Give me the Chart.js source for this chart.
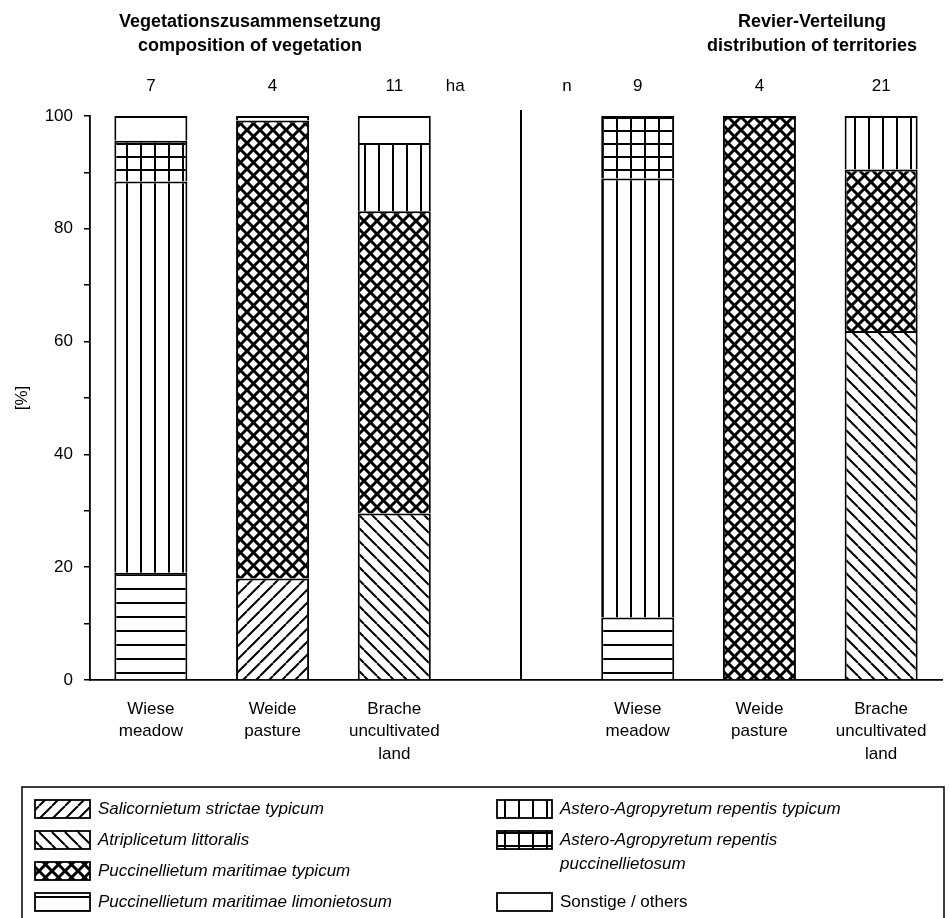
<!DOCTYPE html>
<html>
<head>
<meta charset="utf-8">
<script src="https://cdn.jsdelivr.net/npm/chart.js@4"></script>
<style>
  html, body { margin: 0; padding: 0; background: #fff; }
</style>
</head>
<body>
<canvas id="chart" width="950" height="918"></canvas>
<script>
// Kategorien (Slot 4 bleibt leer, dort steht die Trennlinie)
const categories = [['Wiese', 'meadow'], ['Weide', 'pasture'], ['Brache', 'uncultivated', 'land'], '',
                    ['Wiese', 'meadow'], ['Weide', 'pasture'], ['Brache', 'uncultivated', 'land']];
const panelTitles = [['Vegetationszusammensetzung', 'composition of vegetation'],
                     ['Revier-Verteilung', 'distribution of territories']];
const areaHa = [7, 4, 11];
const territoriesN = [9, 4, 21];

// Anteile in %
const salicornietum    = [null, 18,   null, null, null, null, null];
const atriplicetum     = [null, null, 29.5, null, null, null, 61.9];
const puccTypicum      = [null, 81.2, 53.6, null, null, 100,  28.6];
const puccLimonietosum = [19,   null, null, null, 11.1, null, null];
const asteroTypicum    = [69.4, null, 12.1, null, 77.8, null, 9.5];
const asteroPucc       = [7.2,  null, null, null, 11.1, null, null];
const others           = [4.4,  0.8,  4.8,  null, null, null, null];

const seriesNames = ['Salicornietum strictae typicum', 'Atriplicetum littoralis', 'Puccinellietum maritimae typicum',
                     'Puccinellietum maritimae limonietosum', 'Astero-Agropyretum repentis typicum',
                     ['Astero-Agropyretum repentis', 'puccinellietosum'], 'Sonstige / others'];
const seriesValues = [salicornietum, atriplicetum, puccTypicum, puccLimonietosum, asteroTypicum, asteroPucc, others];

const FONT = "'Liberation Sans', Arial, sans-serif";
const canvas = document.getElementById('chart');
const ctx = canvas.getContext('2d');

// Schraffuren als Muster
const makePattern = (w, h, draw) => {
    const tile = document.createElement('canvas');
    tile.width = w;
    tile.height = h;
    const g = tile.getContext('2d');
    g.fillStyle = '#fff';
    g.fillRect(0, 0, w, h);
    g.strokeStyle = '#000';
    g.fillStyle = '#000';
    draw(g, w, h);
    return ctx.createPattern(tile, 'repeat');
};
const diagonal = (g, s, up) => {
    g.beginPath();
    for (let k = -1; k <= 1; k++) {
        if (up) { g.moveTo(k * s, s); g.lineTo(k * s + s, 0); }
        else { g.moveTo(k * s, 0); g.lineTo(k * s + s, s); }
    }
    g.stroke();
};
const patterns = [
    makePattern(13, 13, (g, s) => { g.lineWidth = 2; diagonal(g, s, true); }),
    makePattern(13, 13, (g, s) => { g.lineWidth = 2; diagonal(g, s, false); }),
    makePattern(13, 13, (g, s) => { g.lineWidth = 3; diagonal(g, s, true); diagonal(g, s, false); }),
    makePattern(14, 14, (g, w) => { g.fillRect(0, 0, w, 2); }),
    makePattern(14, 14, (g, w, h) => { g.fillRect(0, 0, 2, h); }),
    makePattern(14, 13, (g, w, h) => { g.fillRect(0, 0, 2, h); g.fillRect(0, 0, w, 2); }),
    '#fff'
];

// Titel, Flächen/Anzahlen, Trennlinie und Legende
const decorations = {
    id: 'decorations',
    afterDraw(chart) {
        const { ctx, chartArea, scales: { x } } = chart;
        ctx.save();
        ctx.fillStyle = '#000';
        ctx.strokeStyle = '#000';
        ctx.textAlign = 'center';
        ctx.textBaseline = 'middle';

        ctx.font = `bold 18px ${FONT}`;
        [250, 812].forEach((cx, p) => {
            panelTitles[p].forEach((line, i) => ctx.fillText(line, cx, 22 + i * 24));
        });

        ctx.font = `17px ${FONT}`;
        areaHa.forEach((v, i) => ctx.fillText(String(v), x.getPixelForValue(i), 86));
        territoriesN.forEach((v, i) => ctx.fillText(String(v), x.getPixelForValue(i + 4), 86));
        ctx.fillText('ha', (x.getPixelForValue(2) + x.getPixelForValue(3)) / 2, 86);
        ctx.fillText('n', x.getPixelForValue(3) + 51, 86);

        const sepX = x.getPixelForValue(3) + 5;
        ctx.lineWidth = 2;
        ctx.beginPath();
        ctx.moveTo(sepX, chartArea.top - 6);
        ctx.lineTo(sepX, chartArea.bottom);
        ctx.stroke();

        // Legende
        ctx.lineWidth = 1.5;
        ctx.strokeRect(22, 787, 922, 140);
        const rows = [
            { x: 35, y: 809 }, { x: 35, y: 840 }, { x: 35, y: 871 }, { x: 35, y: 902 },
            { x: 497, y: 809 }, { x: 497, y: 840 }, { x: 497, y: 902 }
        ];
        ctx.textAlign = 'left';
        seriesNames.forEach((name, i) => {
            const r = rows[i];
            ctx.fillStyle = patterns[i];
            ctx.fillRect(r.x, r.y - 9, 55, 18);
            ctx.lineWidth = 1.8;
            ctx.strokeRect(r.x, r.y - 9, 55, 18);
            ctx.fillStyle = '#000';
            ctx.font = (i === 6 ? '' : 'italic ') + `17px ${FONT}`;
            const lines = Array.isArray(name) ? name : [name];
            lines.forEach((line, j) => ctx.fillText(line, r.x + 63, r.y + j * 24));
        });
        ctx.restore();
    }
};

new Chart(canvas, {
    type: 'bar',
    data: {
        labels: categories,
        datasets: seriesNames.map((name, i) => ({
            label: Array.isArray(name) ? name.join(' ') : name,
            data: seriesValues[i],
            backgroundColor: patterns[i],
            borderColor: '#000',
            borderWidth: 2,
            categoryPercentage: 0.6,
            barPercentage: 1
        }))
    },
    options: {
        responsive: false,
        animation: false,
        devicePixelRatio: 1,
        layout: { padding: { top: 116, right: 8, bottom: 158, left: 0 } },
        plugins: {
            legend: { display: false },
            tooltip: { enabled: false }
        },
        scales: {
            x: {
                stacked: true,
                grid: { display: false },
                border: { color: '#000', width: 1.8 },
                ticks: {
                    color: '#000',
                    font: { family: FONT, size: 17, lineHeight: 1.32 },
                    padding: 10,
                    maxRotation: 0,
                    autoSkip: false
                },
                afterFit: (s) => { s.height = 80; }
            },
            y: {
                stacked: true,
                min: 0,
                max: 100,
                ticks: {
                    stepSize: 10,
                    color: '#000',
                    font: { family: FONT, size: 17 },
                    padding: 11,
                    callback: (v) => (v % 20 === 0 ? v : '')
                },
                grid: { drawOnChartArea: false, tickLength: 6, color: '#000', lineWidth: 1.5 },
                border: { color: '#000', width: 1.8 },
                title: {
                    display: true,
                    text: '[%]',
                    color: '#000',
                    font: { family: FONT, size: 17 },
                    padding: { top: 12, bottom: 0 }
                },
                afterFit: (s) => { s.width = 90; }
            }
        }
    },
    plugins: [decorations]
});
</script>
</body>
</html>
